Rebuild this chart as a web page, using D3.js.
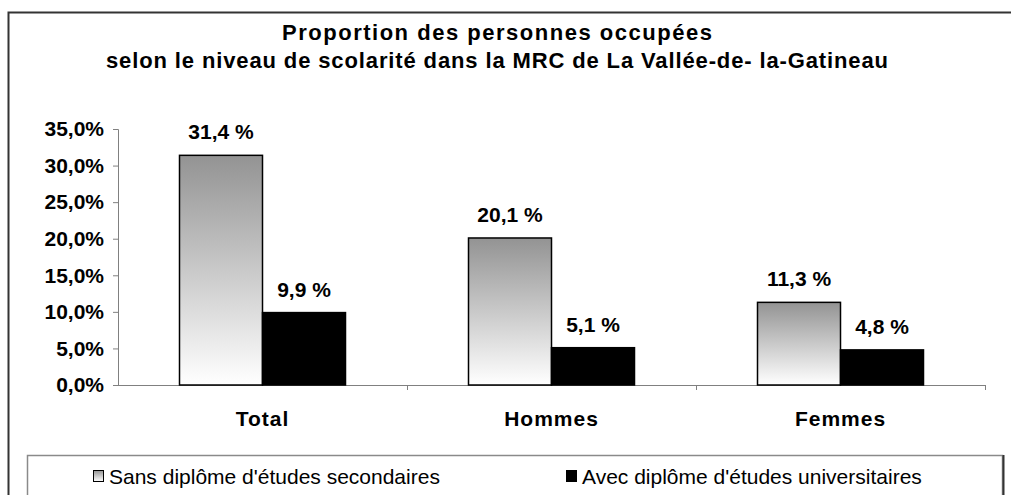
<!DOCTYPE html>
<html>
<head>
<meta charset="utf-8">
<script src="https://d3js.org/d3.v7.min.js"></script>
<style>
  body { margin:0; background:#fff; }
  text { font-family: "Liberation Sans", Arial, sans-serif; }
</style>
</head>
<body>
<script>
var categories = ["Total", "Hommes", "Femmes"];
var seriesNames = ["Sans diplôme d'études secondaires", "Avec diplôme d'études universitaires"];
var sansDiplome = [31.4, 20.1, 11.3];
var avecDiplome = [9.9, 5.1, 4.8];
var yTicks = [0, 5, 10, 15, 20, 25, 30, 35];
var titleLines = ["Proportion des personnes occupées", "selon le niveau de scolarité dans la MRC de La Vallée-de- la-Gatineau"];

var W = 1011, H = 495;
var svg = d3.select("body").append("svg").attr("width", W).attr("height", H);

var defs = svg.append("defs");
var grad = defs.append("linearGradient").attr("id", "grayGrad")
  .attr("x1", 0).attr("y1", 0).attr("x2", 0).attr("y2", 1);
grad.append("stop").attr("offset", "0%").attr("stop-color", "#939393");
grad.append("stop").attr("offset", "100%").attr("stop-color", "#ffffff");

// outer frame (right and bottom edges fall outside the picture)
svg.append("rect").attr("x", 8.5).attr("y", 12.5).attr("width", 1020).attr("height", 500)
  .attr("fill", "#fff").attr("stroke", "#333").attr("stroke-width", 2);

// title
var titleW = [430, 782];
svg.selectAll(".title").data(titleLines).enter().append("text")
  .attr("x", 497).attr("y", function(d, i) { return 40 + i * 28; })
  .attr("text-anchor", "middle").attr("font-size", 22).attr("font-weight", "bold")
  .attr("textLength", function(d, i) { return titleW[i]; })
  .attr("lengthAdjust", "spacing")
  .text(function(d) { return d; });

var x0 = 118, x1 = 985, y0 = 385, y1 = 129;
var x = d3.scaleBand().domain(categories).range([x0, x1]).paddingInner(0).paddingOuter(0);
var y = d3.scaleLinear().domain([0, 35]).range([y0, y1]);
var barW = 83;

// y axis
var yAxis = d3.axisLeft(y).tickValues(yTicks).tickSize(5).tickPadding(9)
  .tickFormat(function(d) { return d.toFixed(1).replace(".", ",") + "%"; });
var gy = svg.append("g").attr("transform", "translate(" + x0 + ",0)").call(yAxis);
gy.select(".domain").attr("stroke", "#808080");
gy.selectAll(".tick line").attr("stroke", "#808080");
gy.selectAll("text").attr("font-size", 21).attr("font-weight", "bold").attr("fill", "#000")
  .attr("font-family", "Liberation Sans, Arial, sans-serif");

// x axis
var gx = svg.append("g").attr("transform", "translate(0," + y0 + ")");
gx.append("line").attr("x1", x0).attr("x2", x1).attr("y1", 0.5).attr("y2", 0.5).attr("stroke", "#808080");
gx.selectAll(".xt").data(categories).enter().append("line")
  .attr("x1", function(d) { return x(d) + x.bandwidth() + 0.5; })
  .attr("x2", function(d) { return x(d) + x.bandwidth() + 0.5; })
  .attr("y1", 0).attr("y2", 5).attr("stroke", "#808080");
gx.selectAll(".xl").data(categories).enter().append("text")
  .attr("x", function(d) { return x(d) + x.bandwidth() / 2; })
  .attr("y", 41).attr("text-anchor", "middle")
  .attr("font-size", 21).attr("font-weight", "bold").attr("letter-spacing", 1)
  .text(function(d) { return d; });

// bars
function fmt(v) { return v.toFixed(1).replace(".", ",") + " %"; }
categories.forEach(function(c, i) {
  var cx = x(c) + x.bandwidth() / 2;
  svg.append("rect").attr("x", cx - barW).attr("y", y(sansDiplome[i]))
    .attr("width", barW).attr("height", y0 - y(sansDiplome[i]))
    .attr("fill", "url(#grayGrad)").attr("stroke", "#000").attr("stroke-width", 1.5);
  svg.append("rect").attr("x", cx).attr("y", y(avecDiplome[i]))
    .attr("width", barW).attr("height", y0 - y(avecDiplome[i]))
    .attr("fill", "#000").attr("stroke", "#000").attr("stroke-width", 1.5);
  svg.append("text").attr("x", cx - barW / 2).attr("y", y(sansDiplome[i]) - 16)
    .attr("text-anchor", "middle").attr("font-size", 21).attr("font-weight", "bold")
    .text(fmt(sansDiplome[i]));
  svg.append("text").attr("x", cx + barW / 2).attr("y", y(avecDiplome[i]) - 16)
    .attr("text-anchor", "middle").attr("font-size", 21).attr("font-weight", "bold")
    .text(fmt(avecDiplome[i]));
});

// legend
svg.append("rect").attr("x", 27.5).attr("y", 455.5).attr("width", 975).attr("height", 60)
  .attr("fill", "#fff").attr("stroke", "#8a8a8a").attr("stroke-width", 1.5);
svg.append("line").attr("x1", 1003.5).attr("x2", 1003.5).attr("y1", 455).attr("y2", 495)
  .attr("stroke", "#333").attr("stroke-width", 2);
var legX = [93, 566];
seriesNames.forEach(function(s, i) {
  svg.append("rect").attr("x", legX[i] + 0.5).attr("y", 470.5).attr("width", 10).attr("height", 11)
    .attr("fill", i === 0 ? "url(#grayGrad)" : "#000").attr("stroke", "#000");
  svg.append("text").attr("x", legX[i] + 16).attr("y", 484).attr("font-size", 21)
    .text(s);
});
</script>
</body>
</html>
